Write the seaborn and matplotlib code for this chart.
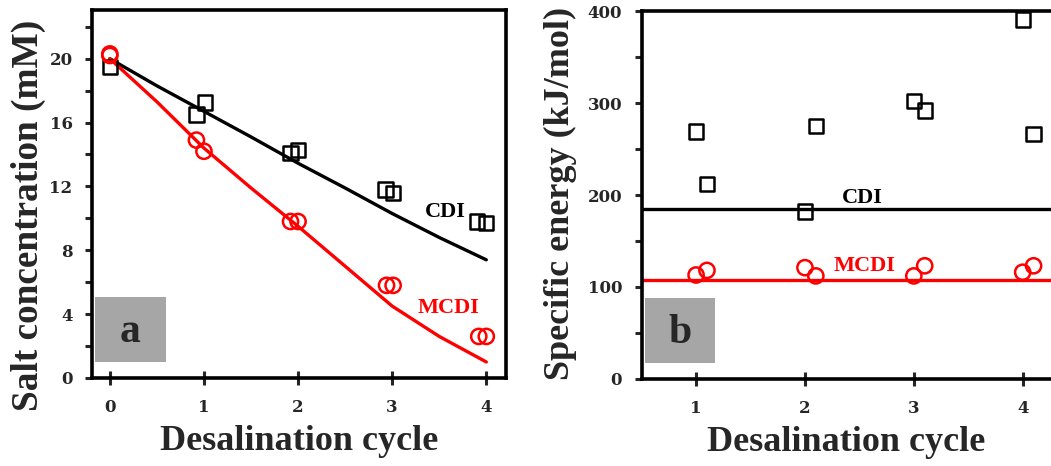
import numpy as np
import pandas as pd
import seaborn as sns
import matplotlib.pyplot as plt
from matplotlib.patches import Rectangle
from matplotlib.ticker import MultipleLocator

# ---------------------------------------------------------------------------
# data

# (a) salt concentration vs cycle, two repeats per cycle
conc_cdi_x = [0.0, 0.92, 1.01, 1.92, 2.0, 2.93, 3.01, 3.9, 4.0]
conc_cdi_y = [19.5, 16.5, 17.25, 14.1, 14.3, 11.8, 11.6, 9.8, 9.7]
conc_mcdi_x = [0.0, 0.0, 0.92, 1.0, 1.92, 2.0, 2.94, 3.01, 3.92, 4.0]
conc_mcdi_y = [20.3, 20.2, 14.9, 14.2, 9.8, 9.8, 5.8, 5.8, 2.6, 2.6]

# model curves
model_x = [0, 0.5, 1, 1.5, 2, 2.5, 3, 3.5, 4]
model_cdi = [20.0, 18.3, 16.7, 15.1, 13.45, 11.9, 10.3, 8.8, 7.4]
model_mcdi = [20.0, 17.3, 14.4, 11.9, 9.5, 7.0, 4.5, 2.6, 1.0]

# (b) specific energy
energy_cdi_x = [1.0, 1.1, 2.0, 2.1, 3.0, 3.1, 4.0, 4.1]
energy_cdi_y = [269, 212, 182, 275, 302, 292, 391, 266]
energy_mcdi_x = [1.0, 1.1, 2.0, 2.1, 3.0, 3.1, 4.0, 4.1]
energy_mcdi_y = [113, 118, 121, 112, 112, 123, 116, 123]
energy_cdi_mean = 185
energy_mcdi_mean = 108

# ---------------------------------------------------------------------------

sns.set_style('ticks')
plt.rcParams['font.family'] = ['Liberation Serif', 'DejaVu Serif']
plt.rcParams['font.weight'] = 'bold'

fig = plt.figure(figsize=(10.51, 4.66), dpi=100)
ax1 = fig.add_axes([0.0875, 0.189, 0.394, 0.7895])
ax2 = fig.add_axes([0.6105, 0.187, 0.3895, 0.789])

RED = '#ff0000'
TICK_FONT = ['DejaVu Serif']

def style_axes(ax):
    for side in ['left', 'bottom', 'top', 'right']:
        ax.spines[side].set_linewidth(2.6)
        ax.spines[side].set_color('black')
    ax.tick_params(axis='x', direction='inout', length=10, width=2.2,
                   labelsize=12, pad=10)
    ax.tick_params(axis='y', which='both', direction='out', length=5,
                   width=2.2, labelsize=12, pad=9)
    for lab in ax.get_xticklabels() + ax.get_yticklabels():
        lab.set_fontweight('bold')
        lab.set_family(TICK_FONT)

def label_box(ax, letter):
    ax.add_patch(Rectangle((0.008, 0.043), 0.17, 0.178, transform=ax.transAxes,
                           facecolor='#a6a6a6', edgecolor='none', zorder=1))
    ax.text(0.093, 0.125, letter, transform=ax.transAxes, ha='center',
            va='center', fontsize=30, fontweight='bold', zorder=2)

# ---- panel a --------------------------------------------------------------
sns.lineplot(x=model_x, y=model_cdi, ax=ax1, color='black', linewidth=2.4)
sns.lineplot(x=model_x, y=model_mcdi, ax=ax1, color=RED, linewidth=2.4)
sns.scatterplot(x=conc_cdi_x, y=conc_cdi_y, ax=ax1, marker='s', s=105,
                facecolors='none', edgecolor='black', linewidth=1.8, zorder=3)
sns.scatterplot(x=conc_mcdi_x, y=conc_mcdi_y, ax=ax1, marker='o', s=120,
                facecolors='none', edgecolor=RED, linewidth=1.8, zorder=3)

ax1.set_xlim(-0.19, 4.21)
ax1.set_ylim(0, 23.05)
ax1.set_xticks([0, 1, 2, 3, 4])
ax1.yaxis.set_major_locator(MultipleLocator(4))
ax1.yaxis.set_minor_locator(MultipleLocator(2))
ax1.set_yticks([0, 4, 8, 12, 16, 20])
ax1.text(3.56, 10.4, 'CDI', ha='center', va='center', fontsize=16,
         fontweight='bold', color='black')
ax1.text(3.6, 4.4, 'MCDI', ha='center', va='center', fontsize=16,
         fontweight='bold', color=RED)
ax1.set_xlabel('Desalination cycle', fontsize=26, fontweight='bold', labelpad=7)
ax1.set_ylabel('Salt concentration (mM)', fontsize=26.8, fontweight='bold')
ax1.yaxis.set_label_coords(-0.111, 0.443)
style_axes(ax1)
label_box(ax1, 'a')

# ---- panel b --------------------------------------------------------------
ax2.axhline(energy_cdi_mean, color='black', linewidth=2.4)
ax2.axhline(energy_mcdi_mean, color=RED, linewidth=2.4)
sns.scatterplot(x=energy_cdi_x, y=energy_cdi_y, ax=ax2, marker='s', s=105,
                facecolors='none', edgecolor='black', linewidth=1.8, zorder=3)
sns.scatterplot(x=energy_mcdi_x, y=energy_mcdi_y, ax=ax2, marker='o', s=120,
                facecolors='none', edgecolor=RED, linewidth=1.8, zorder=3)

ax2.set_xlim(0.5, 4.26)
ax2.set_ylim(0, 400)
ax2.set_xticks([1, 2, 3, 4])
ax2.yaxis.set_major_locator(MultipleLocator(100))
ax2.yaxis.set_minor_locator(MultipleLocator(50))
ax2.text(2.53, 197, 'CDI', ha='center', va='center', fontsize=16,
         fontweight='bold', color='black')
ax2.text(2.55, 123, 'MCDI', ha='center', va='center', fontsize=16,
         fontweight='bold', color=RED)
ax2.set_xlabel('Desalination cycle', fontsize=26, fontweight='bold', labelpad=7)
ax2.set_ylabel('Specific energy (kJ/mol)', fontsize=26, fontweight='bold')
ax2.yaxis.set_label_coords(-0.157, 0.505)
style_axes(ax2)
ax2.spines['right'].set_visible(False)
label_box(ax2, 'b')

fig.savefig('out.png', dpi=100)
